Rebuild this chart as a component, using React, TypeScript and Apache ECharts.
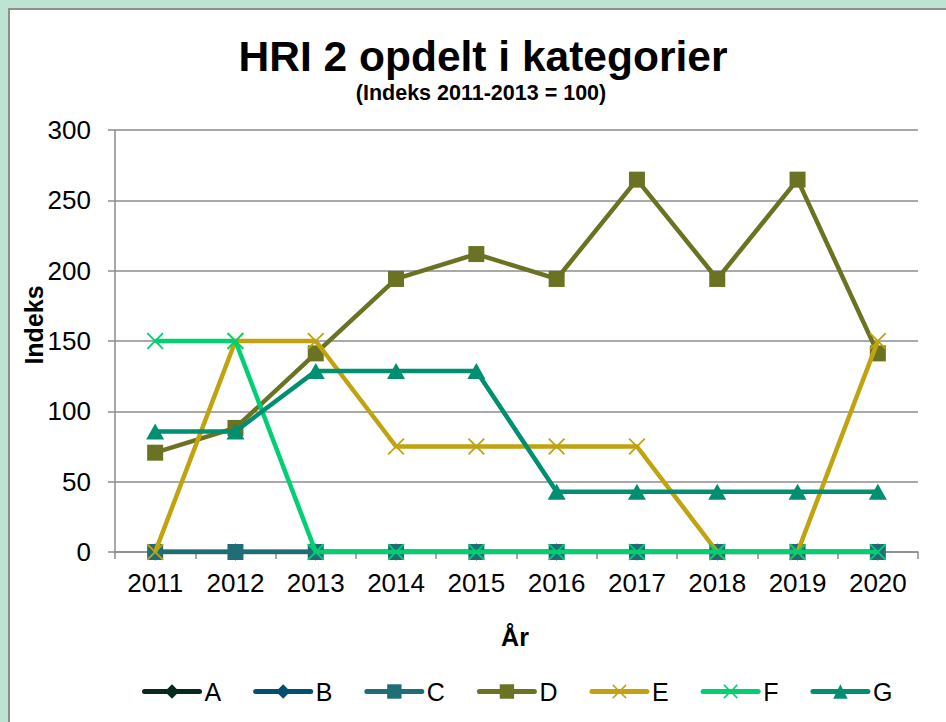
import React, { useEffect, useRef } from "react";
import * as echarts from "echarts";

const years = ["2011", "2012", "2013", "2014", "2015", "2016", "2017", "2018", "2019", "2020"];
const seriesNames = ["A", "B", "C", "D", "E", "F", "G"];
const valuesA = [0, 0, 0, 0, 0, 0, 0, 0, 0, 0];
const valuesB = [0, 0, 0, 0, 0, 0, 0, 0, 0, 0];
const valuesC = [0, 0, 0, 0, 0, 0, 0, 0, 0, 0];
const valuesD = [70.6, 88.2, 141.2, 194.1, 211.8, 194.1, 264.7, 194.1, 264.7, 141.2];
const valuesE = [0, 150, 150, 75, 75, 75, 75, 0, 0, 150];
const valuesF = [150, 150, 0, 0, 0, 0, 0, 0, 0, 0];
const valuesG = [85.7, 85.7, 128.6, 128.6, 128.6, 42.9, 42.9, 42.9, 42.9, 42.9];
const yTicks = { min: 0, max: 300, interval: 50 };

const colors = ["#062a20", "#00506e", "#1f6e75", "#6b7322", "#c0a30e", "#00d072", "#008f70"];
const X_PATH =
  "path://M0,1.5 L1.5,0 L10,8.5 L18.5,0 L20,1.5 L11.5,10 L20,18.5 L18.5,20 L10,11.5 L1.5,20 L0,18.5 L8.5,10 Z";
const symbols = ["diamond", "diamond", "rect", "rect", X_PATH, X_PATH, "triangle"];
const symbolSizes: any[] = [[13, 17], [13, 17], 16, 16, 17, 17, [18, 16]];

const FONT = "'Liberation Sans', Arial, sans-serif";

export default function App() {
  const ref = useRef<HTMLDivElement>(null);
  useEffect(() => {
    if (!ref.current) return;
    const chart = echarts.init(ref.current, null, { renderer: "svg" });
    const allValues = [valuesA, valuesB, valuesC, valuesD, valuesE, valuesF, valuesG];
    const series = seriesNames.map((name, i) => ({
      name,
      type: "line",
      data: allValues[i],
      symbol: symbols[i],
      symbolSize: symbolSizes[i],
      showAllSymbol: true,
      z: 2 + i,
      lineStyle: { color: colors[i], width: 4.5 },
      itemStyle: { color: colors[i] },
      emphasis: { disabled: true },
    }));
    chart.setOption({
      animation: false,
      backgroundColor: "#bfe3d3",
      textStyle: { fontFamily: FONT },
      graphic: [
        {
          type: "rect",
          z: -10,
          silent: true,
          shape: { x: 9, y: 9, width: 960, height: 730 },
          style: { fill: "#ffffff", stroke: "#8e8e8e", lineWidth: 2 },
        },
        {
          type: "text",
          x: 483,
          y: 56,
          style: {
            text: "HRI 2 opdelt i kategorier",
            font: `bold 42.5px ${FONT}`,
            fill: "#000",
            align: "center",
            verticalAlign: "middle",
          },
        },
        {
          type: "text",
          x: 481,
          y: 93,
          style: {
            text: "(Indeks 2011-2013 = 100)",
            font: `bold 21.5px ${FONT}`,
            fill: "#000",
            align: "center",
            verticalAlign: "middle",
          },
        },
        {
          type: "text",
          x: 34,
          y: 325,
          rotation: Math.PI / 2,
          style: {
            text: "Indeks",
            font: `bold 25px ${FONT}`,
            fill: "#000",
            align: "center",
            verticalAlign: "middle",
          },
        },
        {
          type: "text",
          x: 515,
          y: 637,
          style: {
            text: "År",
            font: `bold 25px ${FONT}`,
            fill: "#000",
            align: "center",
            verticalAlign: "middle",
          },
        },
      ],
      legend: {
        data: seriesNames,
        left: 137,
        top: 674,
        itemWidth: 55,
        itemHeight: 18,
        itemGap: 32,
        lineStyle: { width: 5, cap: "round" },
        selectedMode: false,
        textStyle: { fontSize: 25, color: "#000", fontFamily: FONT, width: 18, padding: [0, 0, 0, 0] },
      },
      grid: { left: 115, top: 130, width: 803, height: 422, containLabel: false },
      xAxis: {
        type: "category",
        data: years,
        boundaryGap: true,
        axisLine: { lineStyle: { color: "#8c8c8c", width: 1.5 } },
        axisTick: { show: true, length: 7, lineStyle: { color: "#8c8c8c", width: 1.5 } },
        axisLabel: { color: "#000", fontSize: 26, margin: 18, fontFamily: FONT },
      },
      yAxis: {
        type: "value",
        min: yTicks.min,
        max: yTicks.max,
        interval: yTicks.interval,
        axisLine: { show: true, lineStyle: { color: "#8c8c8c", width: 1.5 } },
        axisTick: { show: true, length: 7, lineStyle: { color: "#8c8c8c", width: 1.5 } },
        axisLabel: { color: "#000", fontSize: 26, margin: 24, fontFamily: FONT },
        splitLine: { show: true, lineStyle: { color: "#8c8c8c", width: 1.5 } },
      },
      series,
    });
    return () => chart.dispose();
  }, []);
  return (
    <div
      ref={ref}
      style={{ position: "fixed", left: 0, top: 0, width: 946, height: 722 }}
    />
  );
}
